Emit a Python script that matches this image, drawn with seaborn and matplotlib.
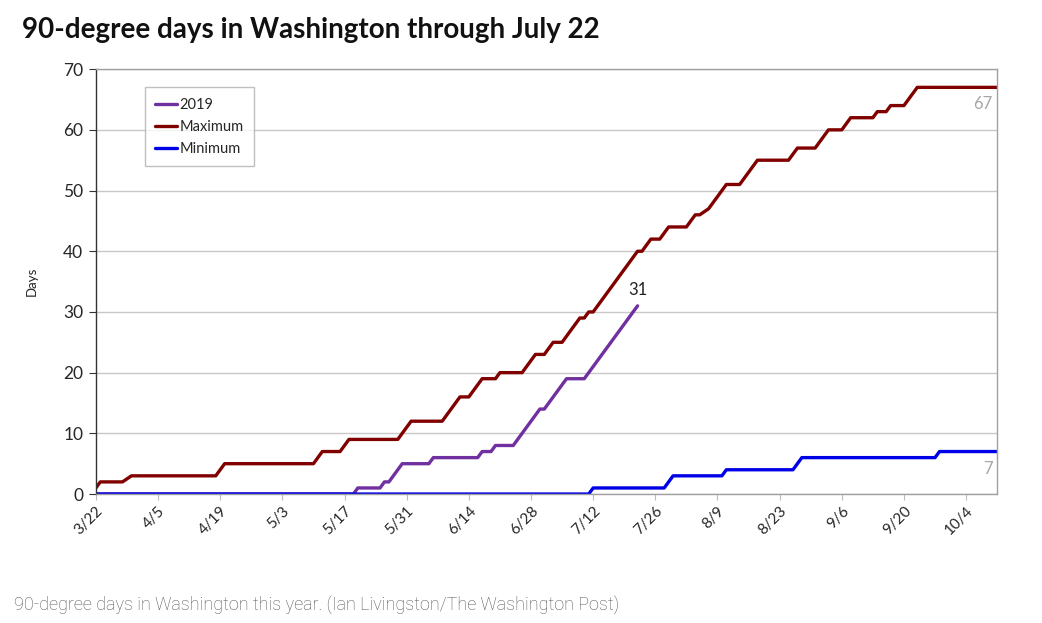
import pandas as pd
import numpy as np
import matplotlib
matplotlib.use("Agg")
import matplotlib.pyplot as plt
import seaborn as sns

# breakpoints of the cumulative counts (month/day, 2019)
dates_2019 = ["3/22", "5/19", "5/20", "5/25", "5/26", "5/27", "5/30", "6/5", "6/6", "6/16",
              "6/17", "6/19", "6/20", "6/24", "6/30", "7/1", "7/6", "7/10", "7/22"]
days_2019 = [0, 0, 1, 1, 2, 2, 5, 5, 6, 6, 7, 7, 8, 8, 14, 14, 19, 19, 31]

dates_max = ["3/22", "3/23", "3/28", "3/30", "4/18", "4/20", "5/10", "5/12", "5/16", "5/18",
             "5/29", "6/1", "6/8", "6/12", "6/14", "6/17", "6/20", "6/21", "6/26", "6/29",
             "7/1", "7/3", "7/5", "7/9", "7/10", "7/11", "7/12", "7/22", "7/23", "7/25",
             "7/27", "7/29", "8/2", "8/4", "8/5", "8/7", "8/11", "8/14", "8/18", "8/25",
             "8/27", "8/31", "9/3", "9/6", "9/8", "9/13", "9/14", "9/16", "9/17", "9/20",
             "9/23", "10/11"]
days_max = [1, 2, 2, 3, 3, 5, 5, 7, 7, 9,
            9, 12, 12, 16, 16, 19, 19, 20, 20, 23,
            23, 25, 25, 29, 29, 30, 30, 40, 40, 42,
            42, 44, 44, 46, 46, 47, 51, 51, 55, 55,
            57, 57, 60, 60, 62, 62, 63, 63, 64, 64,
            67, 67]

dates_min = ["3/22", "7/11", "7/12", "7/28", "7/30", "8/10", "8/11", "8/26", "8/28", "9/27",
             "9/28", "10/11"]
days_min = [0, 0, 1, 1, 3, 3, 4, 4, 6, 6, 7, 7]

series_names = ["2019", "Maximum", "Minimum"]
series_colors = ["#7030a0", "#800000", "#0000e6"]


def to_dates(lst):
    return pd.to_datetime(["2019/" + s for s in lst], format="%Y/%m/%d")


df = pd.concat([
    pd.DataFrame({"date": to_dates(dates_2019), "days": days_2019, "series": "2019"}),
    pd.DataFrame({"date": to_dates(dates_max), "days": days_max, "series": "Maximum"}),
    pd.DataFrame({"date": to_dates(dates_min), "days": days_min, "series": "Minimum"}),
], ignore_index=True)

sns.set_style("white")
plt.rcParams['font.family'] = ['Lato', 'DejaVu Sans']

fig = plt.figure(figsize=(10.42, 6.23), dpi=100)
ax = fig.add_axes([0.092, 0.207, 0.865, 0.682])

sns.lineplot(data=df, x="date", y="days", hue="series", hue_order=series_names,
             palette=series_colors, estimator=None, sort=False, linewidth=2.4, ax=ax)

ax.set_xlim(pd.Timestamp("2019-03-22"), pd.Timestamp("2019-10-11"))
ax.set_ylim(0, 70)
ax.set_yticks(range(0, 71, 10))
ax.tick_params(axis="y", labelsize=12.5, length=5, color="#333333", direction="out", left=True, pad=4)

xt = pd.date_range("2019-03-22", "2019-10-04", freq="14D")
ax.set_xticks(xt)
ax.set_xticklabels([f"{d.month}/{d.day}" for d in xt], rotation=45, ha="right",
                   rotation_mode="anchor", fontsize=11)
ax.tick_params(axis="x", length=4, color="#bbbbbb", direction="out", bottom=True, pad=3)

ax.grid(axis="y", color="#c8c8c8", linewidth=1)
ax.set_axisbelow(True)
for s in ["top", "right", "bottom"]:
    ax.spines[s].set_color("#a0a0a0")
ax.spines["left"].set_color("#333333")
for s in ax.spines.values():
    s.set_linewidth(1)

ax.set_xlabel("")
ax.set_ylabel("Days", fontsize=9.5, labelpad=18)

ax.text(pd.Timestamp("2019-07-22"), 32.3, "31", fontsize=12, ha="center", va="bottom", color="#222222")
ax.text(pd.Timestamp("2019-10-10"), 65.5, "67", fontsize=12, ha="right", va="top", color="#a6a6a6")
ax.text(pd.Timestamp("2019-10-10"), 5.5, "7", fontsize=12, ha="right", va="top", color="#a6a6a6")

leg = ax.legend(loc="upper left", bbox_to_anchor=(0.054, 0.957), borderaxespad=0,
                fontsize=10.5, frameon=True, fancybox=False, edgecolor="#b0b0b0",
                handlelength=1.5, handletextpad=0.2, labelspacing=0.55, borderpad=0.7)
leg.get_frame().set_linewidth(1)

fig.text(0.021, 0.972, "90-degree days in Washington through July 22", fontsize=20,
         fontweight="bold", ha="left", va="top", color="#111111")
fig.text(0.013, 0.014, "90-degree days in Washington this year. (Ian Livingston/The Washington Post)",
         fontsize=13, ha="left", va="bottom", color="#555555", family=["Roboto", "DejaVu Sans"],
         fontweight="light")

fig.savefig("out.png", dpi=100)
